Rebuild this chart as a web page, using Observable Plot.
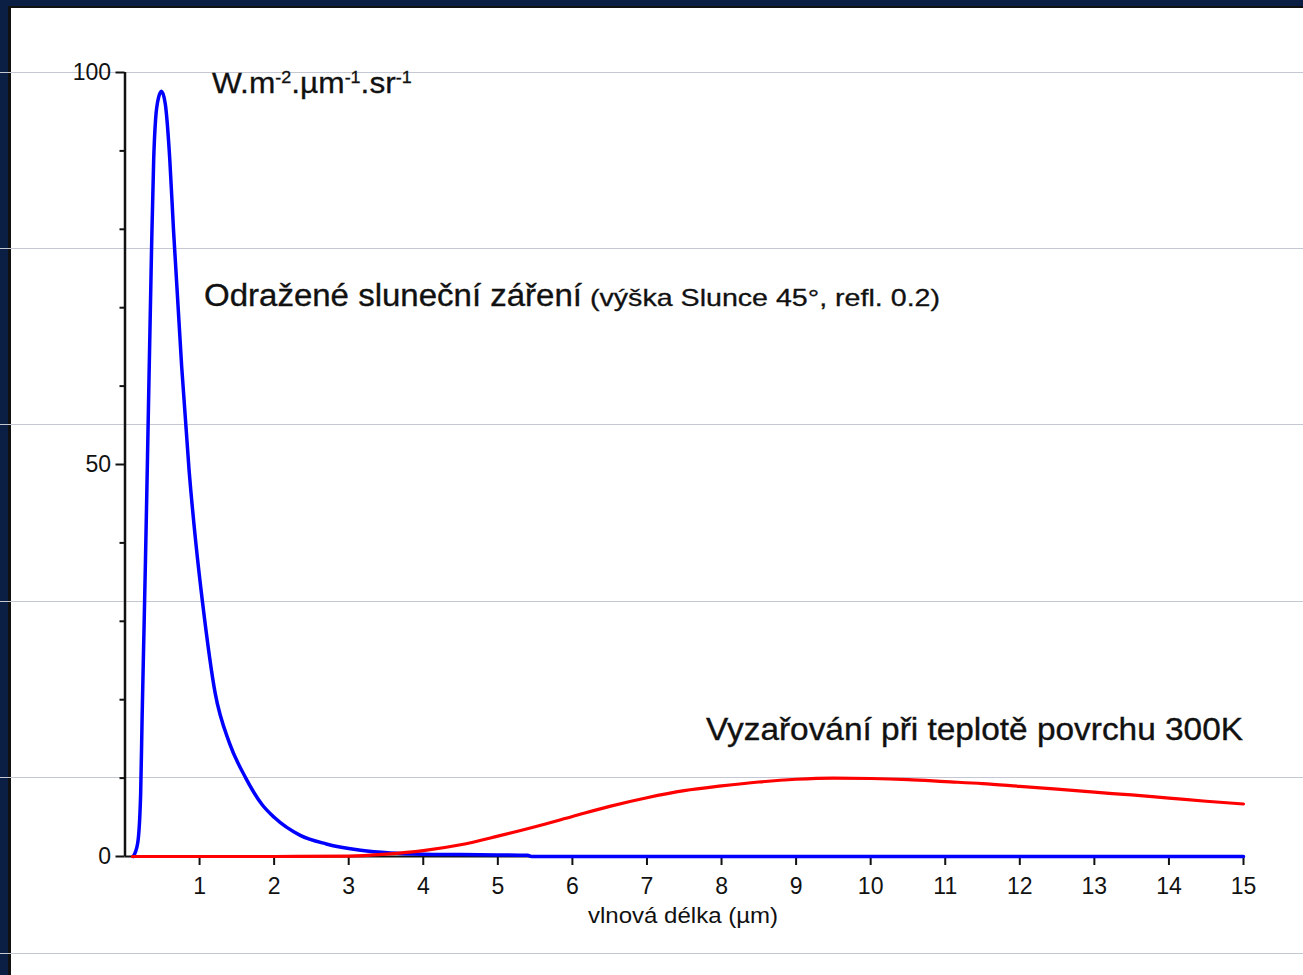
<!DOCTYPE html>
<html><head><meta charset="utf-8">
<script src="https://cdn.jsdelivr.net/npm/d3@7"></script>
<script src="https://cdn.jsdelivr.net/npm/@observablehq/plot@0.6"></script>
<style>
html,body{margin:0;padding:0}
body{width:1303px;height:975px;overflow:hidden;position:relative;background:#0b1f45;font-family:"Liberation Sans",Arial,sans-serif}
#panel{position:absolute;left:8px;top:6px;right:0;bottom:0;background:#fff;border-left:3px solid #111;border-top:2px solid #111}
.hline{position:absolute;left:0;width:1303px;height:1px;background:#c5c8d2}
#chart{position:absolute;left:0;top:0}
#overlay{position:absolute;left:0;top:0;pointer-events:none}
</style></head><body>
<div id="panel"></div>
<div id="lines"></div>
<div id="chart"></div>
<svg id="overlay" width="1303" height="975" font-family="Liberation Sans, Arial, sans-serif" fill="#111">
  <g transform="translate(212,93) scale(1.055,1)" stroke="#111" stroke-width="0.3">
    <text x="0" y="0" font-size="30">W.m<tspan font-size="17" dy="-10">-2</tspan><tspan dy="10">.µm</tspan><tspan font-size="17" dy="-10">-1</tspan><tspan dy="10">.sr</tspan><tspan font-size="17" dy="-10">-1</tspan></text>
  </g>
  <text x="204" y="306" font-size="31" textLength="378" lengthAdjust="spacingAndGlyphs" stroke="#111" stroke-width="0.35">Odražené sluneční záření</text>
  <text x="590" y="306" font-size="24" textLength="350" lengthAdjust="spacingAndGlyphs" stroke="#111" stroke-width="0.3">(výška Slunce 45°, refl. 0.2)</text>
  <text x="706" y="740" font-size="31" textLength="537" lengthAdjust="spacingAndGlyphs" stroke="#111" stroke-width="0.35">Vyzařování při teplotě povrchu 300K</text>
  <text x="588" y="923" font-size="22" textLength="190" lengthAdjust="spacingAndGlyphs">vlnová délka (µm)</text>
</svg>
<script>
// Reflected solar radiation (blue)
const solarWavelength = [0.11, 0.17, 0.21, 0.23, 0.255, 0.275, 0.30, 0.355, 0.385, 0.41, 0.45, 0.49, 0.54, 0.60, 0.65, 0.76, 0.86, 0.95, 1.04, 1.21, 1.40, 1.62, 1.84, 2.0, 2.35, 2.7, 3.16, 3.56, 4.0, 4.5, 5.0, 5.4, 5.45, 6, 8, 10, 12, 15];
const solarRadiance   = [0, 1.7, 8, 18, 29, 38, 50, 77, 89, 94, 96.8, 97.6, 96, 89, 80, 62.5, 49.2, 40, 32.4, 20.8, 14.5, 10.0, 6.6, 5.0, 2.7, 1.6, 0.8, 0.45, 0.3, 0.25, 0.2, 0.15, 0, 0, 0, 0, 0, 0];
// Thermal emission at 300 K (red)
const thermalWavelength = [0.1, 1, 2, 3, 3.5, 4, 4.5, 5, 5.5, 6, 6.5, 7, 7.5, 8, 8.5, 9, 9.5, 10, 10.5, 11, 11.5, 12, 12.5, 13, 13.5, 14, 14.5, 15];
const thermalRadiance   = [0, 0, 0, 0.05, 0.3, 0.75, 1.5, 2.6, 3.8, 5.1, 6.4, 7.5, 8.4, 9.0, 9.5, 9.85, 10.0, 9.95, 9.8, 9.55, 9.3, 8.95, 8.6, 8.2, 7.85, 7.45, 7.05, 6.7];
// Ticks
const xTicks = [1,2,3,4,5,6,7,8,9,10,11,12,13,14,15];
const yMajorTicks = [0, 50, 100];
const yMinorTicks = [10,20,30,40,60,70,80,90];

const solar = solarWavelength.map((w,i)=>({w, v: solarRadiance[i]}));
const thermal = thermalWavelength.map((w,i)=>({w, v: thermalRadiance[i]}));

// decorative slide rules
const lines = document.getElementById("lines");
for (let i = 0; i < 6; i++) {
  const d = document.createElement("div");
  d.className = "hline";
  d.style.top = (72 + i*176.2).toFixed(0) + "px";
  lines.appendChild(d);
}

const plot = Plot.plot({
  width: 1303, height: 975,
  marginLeft: 124.5, marginRight: 60, marginTop: 72, marginBottom: 119,
  x: {domain: [0, 15]},
  y: {domain: [0, 100]},
  style: {background: "transparent", color: "#111", fontFamily: "Liberation Sans, Arial, sans-serif", overflow: "visible"},
  marks: [
    Plot.ruleY([0], {stroke: "#111", strokeWidth: 2}),
    Plot.ruleX([0], {stroke: "#111", strokeWidth: 2.5}),
    Plot.axisY({ticks: yMajorTicks, tickSize: 9, tickPadding: 5, fontSize: 23, label: null, strokeWidth: 2}),
    Plot.axisY({ticks: yMinorTicks, tickSize: 5, tickFormat: () => "", label: null, strokeWidth: 2}),
    Plot.axisX({ticks: xTicks, tickSize: 9, tickPadding: 12, fontSize: 23, label: null, strokeWidth: 2}),
    Plot.line(solar, {x: "w", y: "v", stroke: "#0000ff", strokeWidth: 3.5, curve: "monotone-x"}),
    Plot.line(thermal, {x: "w", y: "v", stroke: "#ff0000", strokeWidth: 3.2, curve: "monotone-x"})
  ]
});
document.getElementById("chart").appendChild(plot);
</script>
</body></html>
